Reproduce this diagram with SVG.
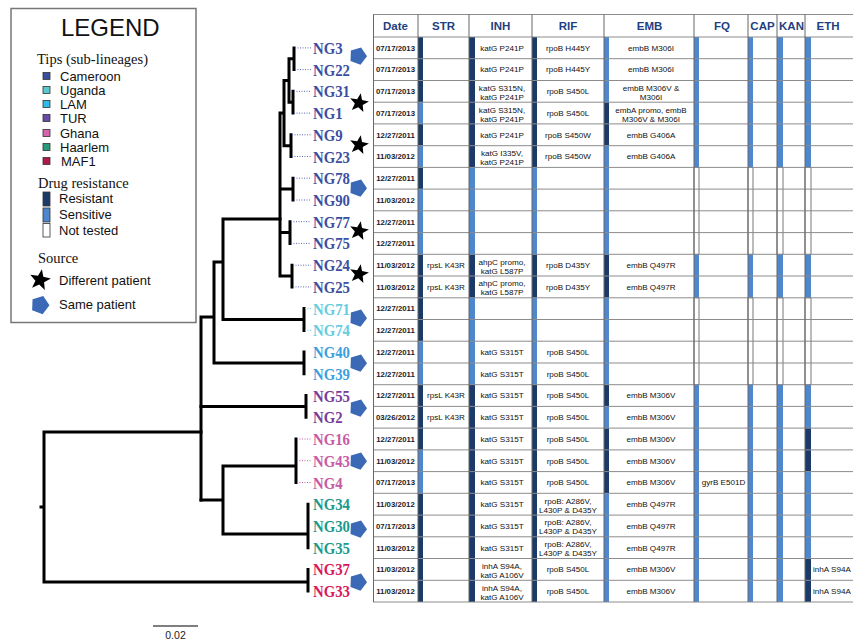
<svg xmlns="http://www.w3.org/2000/svg" width="853" height="641" viewBox="0 0 853 641">
<style>
.tl{stroke:#000;stroke-width:3;fill:none;stroke-linecap:square}
.dt{stroke-width:1;fill:none;stroke-dasharray:1 1.5}
.tip{font-family:"Liberation Serif",serif;font-weight:bold;font-size:17px}
.lg{font-family:"Liberation Sans",Arial,sans-serif;font-size:13px;fill:#111}
.lgs{font-family:"Liberation Serif",serif;font-size:14.5px;fill:#111}
.sw{stroke:#333;stroke-width:0.8}
.R{fill:#1b3a68}
.S{fill:#4f87cf}
.N{fill:#fff;stroke:#555;stroke-width:0.8}
.gl{stroke:#8c8c8c;stroke-width:1}
.vl{stroke:#666;stroke-width:1}
.hd{font-family:"Liberation Sans",Arial,sans-serif;font-weight:bold;font-size:11.5px;fill:#1f3f7f;text-anchor:middle}
.dtx{font-family:"Liberation Sans",Arial,sans-serif;font-weight:bold;font-size:7.8px;fill:#1a1a2a;text-anchor:middle}
.c{font-family:"Liberation Sans",Arial,sans-serif;font-size:8.1px;fill:#111;text-anchor:middle}
.cs{font-family:"Liberation Sans",Arial,sans-serif;font-size:8.1px;fill:#111;text-anchor:start}
.cam{fill:#3d4ea2}.uga{fill:#66cde0}.lam{fill:#3e9fdd}.tur{fill:#7a3c99}.gha{fill:#c95aa5}.haa{fill:#1a9a8c}.maf{fill:#d8185c}
</style>
<defs>
<path id="pent" d="M3.1,-8.5 L9,0.3 L2.5,8.7 L-7.5,5 L-7.1,-5.5 Z" fill="#3b69b6"/>
<path id="star" d="M1.74,-9.85 L3.02,-2.92 L9.90,-1.39 L3.71,1.97 L4.38,8.99 L-0.73,4.14 L-7.19,6.95 L-4.16,0.58 L-8.83,-4.69 L-1.84,-3.78 Z" fill="#000"/>
</defs>
<rect width="853" height="641" fill="#fff"/>

<!-- Legend -->
<g id="legend">
<rect x="11" y="8.5" width="185" height="314" fill="#fff" stroke="#777" stroke-width="1.5"/>
<text x="61" y="36" font-family="Liberation Sans,Arial,sans-serif" font-size="24" fill="#111">LEGEND</text>
<text x="37" y="64" class="lgs">Tips (sub-lineages)</text>
<rect x="43" y="72.5" width="7" height="7" class="sw" fill="#3a4ea0"/><text x="60" y="80.5" class="lg">Cameroon</text>
<rect x="43" y="86.5" width="7" height="7" class="sw" fill="#5ac8cf"/><text x="60" y="94.5" class="lg">Uganda</text>
<rect x="43" y="100.5" width="7" height="7" class="sw" fill="#2fbbea"/><text x="60" y="108.5" class="lg">LAM</text>
<rect x="43" y="114.5" width="7" height="7" class="sw" fill="#6a4aa7"/><text x="60" y="122.5" class="lg">TUR</text>
<rect x="43" y="129.5" width="7" height="7" class="sw" fill="#d664ac"/><text x="60" y="137.5" class="lg">Ghana</text>
<rect x="43" y="143.5" width="7" height="7" class="sw" fill="#2a9a7d"/><text x="60" y="151.5" class="lg">Haarlem</text>
<rect x="43" y="157.5" width="7" height="7" class="sw" fill="#b0184a"/><text x="61" y="165.5" class="lg">MAF1</text>
<text x="38" y="188" class="lgs">Drug resistance</text>
<rect x="43" y="192" width="7" height="14" class="sw R"/><text x="59" y="203" class="lg">Resistant</text>
<rect x="43" y="208" width="7" height="14" class="sw S"/><text x="59" y="219" class="lg">Sensitive</text>
<rect x="43" y="223.5" width="7" height="13.5" fill="#fff" stroke="#333" stroke-width="0.8"/><text x="59" y="235" class="lg">Not tested</text>
<text x="38" y="263" class="lgs">Source</text>
<use href="#star" transform="translate(40,280) scale(1.1)"/><text x="59" y="285" class="lg">Different patient</text>
<use href="#pent" transform="translate(40,305) scale(1.05)"/><text x="59" y="309" class="lg">Same patient</text>
</g>

<!-- Tree connectors -->
<g id="connectors">
<path class="tl" d="M44,432 V582 M41,507 H44 M44,432 H201 M44,582 H308 M308,569.4 V591.1"/>
<path class="tl" d="M201,317 V500 M201,317 H214 M214,262 V363 M214,262 H223 M223,219 V319.5 M223,219 H280 M223,319.5 H304 M304,308.6 V330.4 M214,363 H304 M304,352.1 V373.8"/>
<path class="tl" d="M201,406.5 H306 M306,395.5 V417.3 M201,500 H223 M223,466 V534 M223,466 H296 M296,439 V482.5 M223,534 H308 M308,504.2 V547.7"/>
<path class="tl" d="M280,113.1 V276 M280,113.1 H284 M284,80.5 V145.7 M284,80.5 H289 M289,58.7 V102.2 M289,58.7 H294 M294,47.9 V69.6 M289,102.2 H293 M293,91.3 V113.1 M284,145.7 H291 M291,134.8 V156.5 M280,189 H293 M293,178.2 V200 M280,232.6 H290 M290,221.7 V243.4 M280,276 H292 M292,265.2 V286.9"/>
<g stroke="#5a68b8">
<path class="dt" d="M295,47.9 H311 M295,69.6 H311 M294,91.3 H311 M294,113.1 H311 M292,134.8 H311 M292,156.5 H311 M294,178.2 H311 M294,200 H311 M291,221.7 H311 M291,243.4 H311 M293,265.2 H311 M293,286.9 H311"/>
</g>
<path class="dt" stroke="#66cde0" d="M305,308.6 H311 M305,330.4 H311"/>
<path class="dt" stroke="#c95aa5" d="M297,439 H311 M297,460.7 H311 M297,482.5 H311"/>
</g>

<!-- Tip nodes -->
<g id="NG3"><text class="tip cam" transform="translate(313,53.9) scale(0.87,1)">NG3</text></g>
<g id="NG22"><text class="tip cam" transform="translate(313,75.6) scale(0.87,1)">NG22</text></g>
<g id="NG31"><text class="tip cam" transform="translate(313,97.3) scale(0.87,1)">NG31</text></g>
<g id="NG1"><text class="tip cam" transform="translate(313,119.1) scale(0.87,1)">NG1</text></g>
<g id="NG9"><text class="tip cam" transform="translate(313,140.8) scale(0.87,1)">NG9</text></g>
<g id="NG23"><text class="tip cam" transform="translate(313,162.5) scale(0.87,1)">NG23</text></g>
<g id="NG78"><text class="tip cam" transform="translate(313,184.2) scale(0.87,1)">NG78</text></g>
<g id="NG90"><text class="tip cam" transform="translate(313,206) scale(0.87,1)">NG90</text></g>
<g id="NG77"><text class="tip cam" transform="translate(313,227.7) scale(0.87,1)">NG77</text></g>
<g id="NG75"><text class="tip cam" transform="translate(313,249.4) scale(0.87,1)">NG75</text></g>
<g id="NG24"><text class="tip cam" transform="translate(313,271.2) scale(0.87,1)">NG24</text></g>
<g id="NG25"><text class="tip cam" transform="translate(313,292.9) scale(0.87,1)">NG25</text></g>
<g id="NG71"><text class="tip uga" transform="translate(313,314.6) scale(0.87,1)">NG71</text></g>
<g id="NG74"><text class="tip uga" transform="translate(313,336.4) scale(0.87,1)">NG74</text></g>
<g id="NG40"><text class="tip lam" transform="translate(313,358.1) scale(0.87,1)">NG40</text></g>
<g id="NG39"><text class="tip lam" transform="translate(313,379.8) scale(0.87,1)">NG39</text></g>
<g id="NG55"><text class="tip tur" transform="translate(313,401.5) scale(0.87,1)">NG55</text></g>
<g id="NG2"><text class="tip tur" transform="translate(313,423.3) scale(0.87,1)">NG2</text></g>
<g id="NG16"><text class="tip gha" transform="translate(313,445) scale(0.87,1)">NG16</text></g>
<g id="NG43"><text class="tip gha" transform="translate(313,466.7) scale(0.87,1)">NG43</text></g>
<g id="NG4"><text class="tip gha" transform="translate(313,488.5) scale(0.87,1)">NG4</text></g>
<g id="NG34"><text class="tip haa" transform="translate(313,510.2) scale(0.87,1)">NG34</text></g>
<g id="NG30"><text class="tip haa" transform="translate(313,531.9) scale(0.87,1)">NG30</text></g>
<g id="NG35"><text class="tip haa" transform="translate(313,553.7) scale(0.87,1)">NG35</text></g>
<g id="NG37"><text class="tip maf" transform="translate(313,575.4) scale(0.87,1)">NG37</text></g>
<g id="NG33"><text class="tip maf" transform="translate(313,597.1) scale(0.87,1)">NG33</text></g>

<!-- Source markers -->
<g id="markers">
<use href="#pent" x="358" y="56"/>
<use href="#star" x="359" y="103"/>
<use href="#star" x="359" y="145"/>
<use href="#pent" x="358" y="188"/>
<use href="#star" x="359" y="231"/>
<use href="#star" x="359" y="274"/>
<use href="#pent" x="358" y="318"/>
<use href="#pent" x="358" y="363"/>
<use href="#pent" x="358" y="408"/>
<use href="#pent" x="358" y="461"/>
<use href="#pent" x="358" y="529"/>
<use href="#pent" x="358" y="582"/>
</g>

<!-- Scale bar -->
<g id="scale">
<line x1="153" y1="626" x2="198" y2="626" stroke="#000" stroke-width="1.2"/>
<text x="175.5" y="639" font-family="Liberation Sans,Arial,sans-serif" font-size="10.5" fill="#222" text-anchor="middle">0.02</text>
</g>

<!-- Table -->
<g id="table">
<g id="bars">
<rect class="R" x="418" y="37" width="5" height="65.2"/>
<rect class="S" x="418" y="102.2" width="5" height="21.7"/>
<rect class="R" x="418" y="123.9" width="5" height="21.8"/>
<rect class="S" x="418" y="145.7" width="5" height="21.7"/>
<rect class="R" x="418" y="167.4" width="5" height="21.7"/>
<rect class="S" x="418" y="189.1" width="5" height="65.2"/>
<rect class="R" x="418" y="254.3" width="5" height="86.9"/>
<rect class="S" x="418" y="341.2" width="5" height="43.5"/>
<rect class="R" x="418" y="384.7" width="5" height="65.2"/>
<rect class="S" x="418" y="449.9" width="5" height="43.4"/>
<rect class="R" x="418" y="493.3" width="5" height="108.7"/>
<rect class="R" x="469" y="37" width="6" height="130.4"/>
<rect class="S" x="469" y="167.4" width="6" height="86.9"/>
<rect class="R" x="469" y="254.3" width="6" height="43.5"/>
<rect class="S" x="469" y="297.8" width="6" height="86.9"/>
<rect class="R" x="469" y="384.7" width="6" height="217.3"/>
<rect class="R" x="532" y="37" width="5" height="130.4"/>
<rect class="S" x="532" y="167.4" width="5" height="86.9"/>
<rect class="R" x="532" y="254.3" width="5" height="43.5"/>
<rect class="S" x="532" y="297.8" width="5" height="86.9"/>
<rect class="R" x="532" y="384.7" width="5" height="217.3"/>
<rect class="S" x="604" y="37" width="5" height="65.2"/>
<rect class="R" x="604" y="102.2" width="5" height="43.5"/>
<rect class="S" x="604" y="145.7" width="5" height="108.6"/>
<rect class="R" x="604" y="254.3" width="5" height="43.5"/>
<rect class="S" x="604" y="297.8" width="5" height="86.9"/>
<rect class="R" x="604" y="384.7" width="5" height="21.7"/>
<rect class="S" x="604" y="406.4" width="5" height="21.7"/>
<rect class="R" x="604" y="428.1" width="5" height="65.2"/>
<rect class="S" x="604" y="493.3" width="5" height="108.7"/>
<rect class="S" x="694" y="37" width="5" height="130.4"/>
<rect class="N" x="694" y="167.4" width="5" height="86.9"/>
<rect class="S" x="694" y="254.3" width="5" height="43.5"/>
<rect class="N" x="694" y="297.8" width="5" height="86.9"/>
<rect class="S" x="694" y="384.7" width="5" height="217.3"/>
<rect class="S" x="748" y="37" width="5" height="130.4"/>
<rect class="N" x="748" y="167.4" width="5" height="86.9"/>
<rect class="S" x="748" y="254.3" width="5" height="43.5"/>
<rect class="N" x="748" y="297.8" width="5" height="86.9"/>
<rect class="S" x="748" y="384.7" width="5" height="217.3"/>
<rect class="S" x="777" y="37" width="6" height="130.4"/>
<rect class="N" x="777" y="167.4" width="6" height="86.9"/>
<rect class="S" x="777" y="254.3" width="6" height="43.5"/>
<rect class="N" x="777" y="297.8" width="6" height="86.9"/>
<rect class="S" x="777" y="384.7" width="6" height="217.3"/>
<rect class="S" x="805" y="37" width="6" height="130.4"/>
<rect class="N" x="805" y="167.4" width="6" height="86.9"/>
<rect class="S" x="805" y="254.3" width="6" height="43.5"/>
<rect class="N" x="805" y="297.8" width="6" height="86.9"/>
<rect class="S" x="805" y="384.7" width="6" height="43.4"/>
<rect class="R" x="805" y="428.1" width="6" height="43.5"/>
<rect class="S" x="805" y="471.6" width="6" height="86.9"/>
<rect class="R" x="805" y="558.5" width="6" height="43.5"/>
</g>
<g id="grid">
<path class="gl" d="M373,14.5 H853 M373,37 H853 M373,58.7 H853 M373,80.5 H853 M373,102.2 H853 M373,123.9 H853 M373,145.7 H853 M373,167.4 H853 M373,189.1 H853 M373,210.8 H853 M373,232.6 H853 M373,254.3 H853 M373,276 H853 M373,297.8 H853 M373,319.5 H853 M373,341.2 H853 M373,363 H853 M373,384.7 H853 M373,406.4 H853 M373,428.1 H853 M373,449.9 H853 M373,471.6 H853 M373,493.3 H853 M373,515.1 H853 M373,536.8 H853 M373,558.5 H853 M373,580.3 H853 M373,602 H853"/>
<path class="vl" d="M373.5,14.5 V602 M418,14.5 V602 M469,14.5 V602 M532,14.5 V602 M604,14.5 V602 M694,14.5 V602 M748,14.5 V602 M777,14.5 V602 M805,14.5 V602"/>
</g>
<g id="header">
<text class="hd" x="395.5" y="30">Date</text>
<text class="hd" x="443.5" y="30">STR</text>
<text class="hd" x="500.5" y="30">INH</text>
<text class="hd" x="568" y="30">RIF</text>
<text class="hd" x="649.5" y="30">EMB</text>
<text class="hd" x="722" y="30">FQ</text>
<text class="hd" x="762.5" y="30">CAP</text>
<text class="hd" x="791.5" y="30">KAN</text>
<text class="hd" x="828" y="30">ETH</text>
</g>
<g id="dates">
<text class="dtx" x="395.5" y="50.7">07/17/2013</text>
<text class="dtx" x="395.5" y="72.4">07/17/2013</text>
<text class="dtx" x="395.5" y="94.1">07/17/2013</text>
<text class="dtx" x="395.5" y="115.9">07/17/2013</text>
<text class="dtx" x="395.5" y="137.6">12/27/2011</text>
<text class="dtx" x="395.5" y="159.3">11/03/2012</text>
<text class="dtx" x="395.5" y="181">12/27/2011</text>
<text class="dtx" x="395.5" y="202.8">11/03/2012</text>
<text class="dtx" x="395.5" y="224.5">12/27/2011</text>
<text class="dtx" x="395.5" y="246.2">12/27/2011</text>
<text class="dtx" x="395.5" y="268">11/03/2012</text>
<text class="dtx" x="395.5" y="289.7">11/03/2012</text>
<text class="dtx" x="395.5" y="311.4">12/27/2011</text>
<text class="dtx" x="395.5" y="333.2">12/27/2011</text>
<text class="dtx" x="395.5" y="354.9">12/27/2011</text>
<text class="dtx" x="395.5" y="376.6">12/27/2011</text>
<text class="dtx" x="395.5" y="398.3">12/27/2011</text>
<text class="dtx" x="395.5" y="420.1">03/26/2012</text>
<text class="dtx" x="395.5" y="441.8">12/27/2011</text>
<text class="dtx" x="395.5" y="463.5">11/03/2012</text>
<text class="dtx" x="395.5" y="485.3">07/17/2013</text>
<text class="dtx" x="395.5" y="507">11/03/2012</text>
<text class="dtx" x="395.5" y="528.7">07/17/2013</text>
<text class="dtx" x="395.5" y="550.5">11/03/2012</text>
<text class="dtx" x="395.5" y="572.2">11/03/2012</text>
<text class="dtx" x="395.5" y="593.9">11/03/2012</text>
</g>
<g id="str">
<text class="c" x="446" y="268">rpsL K43R</text>
<text class="c" x="446" y="289.7">rpsL K43R</text>
<text class="c" x="446" y="398.3">rpsL K43R</text>
<text class="c" x="446" y="420.1">rpsL K43R</text>
</g>
<g id="inh">
<text class="c" x="502" y="50.7">katG P241P</text>
<text class="c" x="502" y="72.4">katG P241P</text>
<text class="c" x="502" y="90.8">katG S315N,</text><text class="c" x="502" y="99.8">katG P241P</text>
<text class="c" x="502" y="112.6">katG S315N,</text><text class="c" x="502" y="121.6">katG P241P</text>
<text class="c" x="502" y="137.6">katG P241P</text>
<text class="c" x="502" y="156">katG I335V,</text><text class="c" x="502" y="165">katG P241P</text>
<text class="c" x="502" y="264.7">ahpC promo,</text><text class="c" x="502" y="273.7">katG L587P</text>
<text class="c" x="502" y="286.4">ahpC promo,</text><text class="c" x="502" y="295.4">katG L587P</text>
<text class="c" x="502" y="354.9">katG S315T</text>
<text class="c" x="502" y="376.6">katG S315T</text>
<text class="c" x="502" y="398.3">katG S315T</text>
<text class="c" x="502" y="420.1">katG S315T</text>
<text class="c" x="502" y="441.8">katG S315T</text>
<text class="c" x="502" y="463.5">katG S315T</text>
<text class="c" x="502" y="485.3">katG S315T</text>
<text class="c" x="502" y="507">katG S315T</text>
<text class="c" x="502" y="528.7">katG S315T</text>
<text class="c" x="502" y="550.5">katG S315T</text>
<text class="c" x="502" y="568.9">inhA S94A,</text><text class="c" x="502" y="577.9">katG A106V</text>
<text class="c" x="502" y="590.6">inhA S94A,</text><text class="c" x="502" y="599.6">katG A106V</text>
</g>
<g id="rif">
<text class="c" x="568" y="50.7">rpoB H445Y</text>
<text class="c" x="568" y="72.4">rpoB H445Y</text>
<text class="c" x="568" y="94.1">rpoB S450L</text>
<text class="c" x="568" y="115.9">rpoB S450L</text>
<text class="c" x="568" y="137.6">rpoB S450W</text>
<text class="c" x="568" y="159.3">rpoB S450W</text>
<text class="c" x="568" y="268">rpoB D435Y</text>
<text class="c" x="568" y="289.7">rpoB D435Y</text>
<text class="c" x="568" y="354.9">rpoB S450L</text>
<text class="c" x="568" y="376.6">rpoB S450L</text>
<text class="c" x="568" y="398.3">rpoB S450L</text>
<text class="c" x="568" y="420.1">rpoB S450L</text>
<text class="c" x="568" y="441.8">rpoB S450L</text>
<text class="c" x="568" y="463.5">rpoB S450L</text>
<text class="c" x="568" y="485.3">rpoB S450L</text>
<text class="c" x="568" y="503.7">rpoB: A286V,</text><text class="c" x="568" y="512.7">L430P &amp; D435Y</text>
<text class="c" x="568" y="525.4">rpoB: A286V,</text><text class="c" x="568" y="534.4">L430P &amp; D435Y</text>
<text class="c" x="568" y="547.2">rpoB: A286V,</text><text class="c" x="568" y="556.2">L430P &amp; D435Y</text>
<text class="c" x="568" y="572.2">rpoB S450L</text>
<text class="c" x="568" y="593.9">rpoB S450L</text>
</g>
<g id="emb">
<text class="c" x="651" y="50.7">embB M306I</text>
<text class="c" x="651" y="72.4">embB M306I</text>
<text class="c" x="651" y="90.8">embB M306V &amp;</text><text class="c" x="651" y="99.8">M306I</text>
<text class="c" x="651" y="112.6">embA promo, embB</text><text class="c" x="651" y="121.6">M306V &amp; M306I</text>
<text class="c" x="651" y="137.6">embB G406A</text>
<text class="c" x="651" y="159.3">embB G406A</text>
<text class="c" x="651" y="268">embB Q497R</text>
<text class="c" x="651" y="289.7">embB Q497R</text>
<text class="c" x="651" y="398.3">embB M306V</text>
<text class="c" x="651" y="420.1">embB M306V</text>
<text class="c" x="651" y="441.8">embB M306V</text>
<text class="c" x="651" y="463.5">embB M306V</text>
<text class="c" x="651" y="485.3">embB M306V</text>
<text class="c" x="651" y="507">embB Q497R</text>
<text class="c" x="651" y="528.7">embB Q497R</text>
<text class="c" x="651" y="550.5">embB Q497R</text>
<text class="c" x="651" y="572.2">embB M306V</text>
<text class="c" x="651" y="593.9">embB M306V</text>
</g>
<g id="fq"><text class="c" x="723.5" y="485.3">gyrB E501D</text></g>
<g id="eth">
<text class="cs" x="813" y="572.2">inhA S94A</text>
<text class="cs" x="813" y="593.9">inhA S94A</text>
</g>
</g>
</svg>
